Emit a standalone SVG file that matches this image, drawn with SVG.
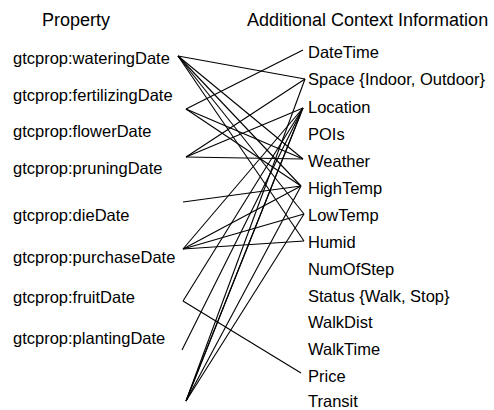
<svg xmlns="http://www.w3.org/2000/svg" width="494" height="410" viewBox="0 0 494 410">
<style>
text{font-family:"Liberation Sans",Arial,sans-serif;fill:#000}
.h{font-size:18px}
.t{font-size:16.5px}
.c line{stroke:#000;stroke-width:1.1;fill:none}
</style>
<rect width="494" height="410" fill="#fff"/>
<g id="headers">
<text class="h" x="42" y="26">Property</text>
<text class="h" x="247" y="26">Additional Context Information</text>
</g>
<g id="properties">
<g id="p-watering"><text class="t" x="13" y="64">gtcprop:wateringDate</text></g>
<g id="p-fertilizing"><text class="t" x="13" y="101">gtcprop:fertilizingDate</text></g>
<g id="p-flower"><text class="t" x="13" y="137">gtcprop:flowerDate</text></g>
<g id="p-pruning"><text class="t" x="13" y="174">gtcprop:pruningDate</text></g>
<g id="p-die"><text class="t" x="13" y="221">gtcprop:dieDate</text></g>
<g id="p-purchase"><text class="t" x="13" y="263">gtcprop:purchaseDate</text></g>
<g id="p-fruit"><text class="t" x="13" y="303">gtcprop:fruitDate</text></g>
<g id="p-planting"><text class="t" x="13" y="344">gtcprop:plantingDate</text></g>
</g>
<g id="context">
<g id="c-datetime"><text class="t" x="308" y="58">DateTime</text></g>
<g id="c-space"><text class="t" x="308" y="85">Space {Indoor, Outdoor}</text></g>
<g id="c-location"><text class="t" x="308" y="113">Location</text></g>
<g id="c-pois"><text class="t" x="308" y="140">POIs</text></g>
<g id="c-weather"><text class="t" x="308" y="167">Weather</text></g>
<g id="c-hightemp"><text class="t" x="308" y="194">HighTemp</text></g>
<g id="c-lowtemp"><text class="t" x="308" y="221">LowTemp</text></g>
<g id="c-humid"><text class="t" x="308" y="248">Humid</text></g>
<g id="c-numofstep"><text class="t" x="308" y="275">NumOfStep</text></g>
<g id="c-status"><text class="t" x="308" y="302">Status {Walk, Stop}</text></g>
<g id="c-walkdist"><text class="t" x="308" y="328">WalkDist</text></g>
<g id="c-walktime"><text class="t" x="308" y="355">WalkTime</text></g>
<g id="c-price"><text class="t" x="308" y="382">Price</text></g>
<g id="c-transit"><text class="t" x="308" y="407">Transit</text></g>
</g>
<g id="connectors" class="c">
<line x1="178" y1="56" x2="305" y2="79"/>
<line x1="178" y1="56" x2="303" y2="159"/>
<line x1="178" y1="56" x2="301" y2="186"/>
<line x1="178" y1="56" x2="304" y2="214"/>
<line x1="178" y1="56" x2="304" y2="241"/>
<line x1="186" y1="109" x2="303" y2="50"/>
<line x1="186" y1="109" x2="303" y2="159"/>
<line x1="186" y1="109" x2="301" y2="186"/>
<line x1="186" y1="157" x2="305" y2="79"/>
<line x1="186" y1="157" x2="303" y2="108"/>
<line x1="186" y1="157" x2="303" y2="159"/>
<line x1="183" y1="202" x2="301" y2="186"/>
<line x1="183" y1="249" x2="303" y2="108"/>
<line x1="183" y1="249" x2="301" y2="186"/>
<line x1="183" y1="249" x2="304" y2="214"/>
<line x1="183" y1="249" x2="304" y2="241"/>
<line x1="183" y1="301" x2="303" y2="108"/>
<line x1="183" y1="301" x2="301" y2="373"/>
<line x1="182" y1="350" x2="303" y2="108"/>
<line x1="186" y1="401" x2="305" y2="79"/>
<line x1="186" y1="401" x2="303" y2="108"/>
<line x1="186" y1="401" x2="301" y2="113"/>
<line x1="186" y1="401" x2="301" y2="186"/>
<line x1="186" y1="401" x2="304" y2="214"/>
</g>
</svg>
